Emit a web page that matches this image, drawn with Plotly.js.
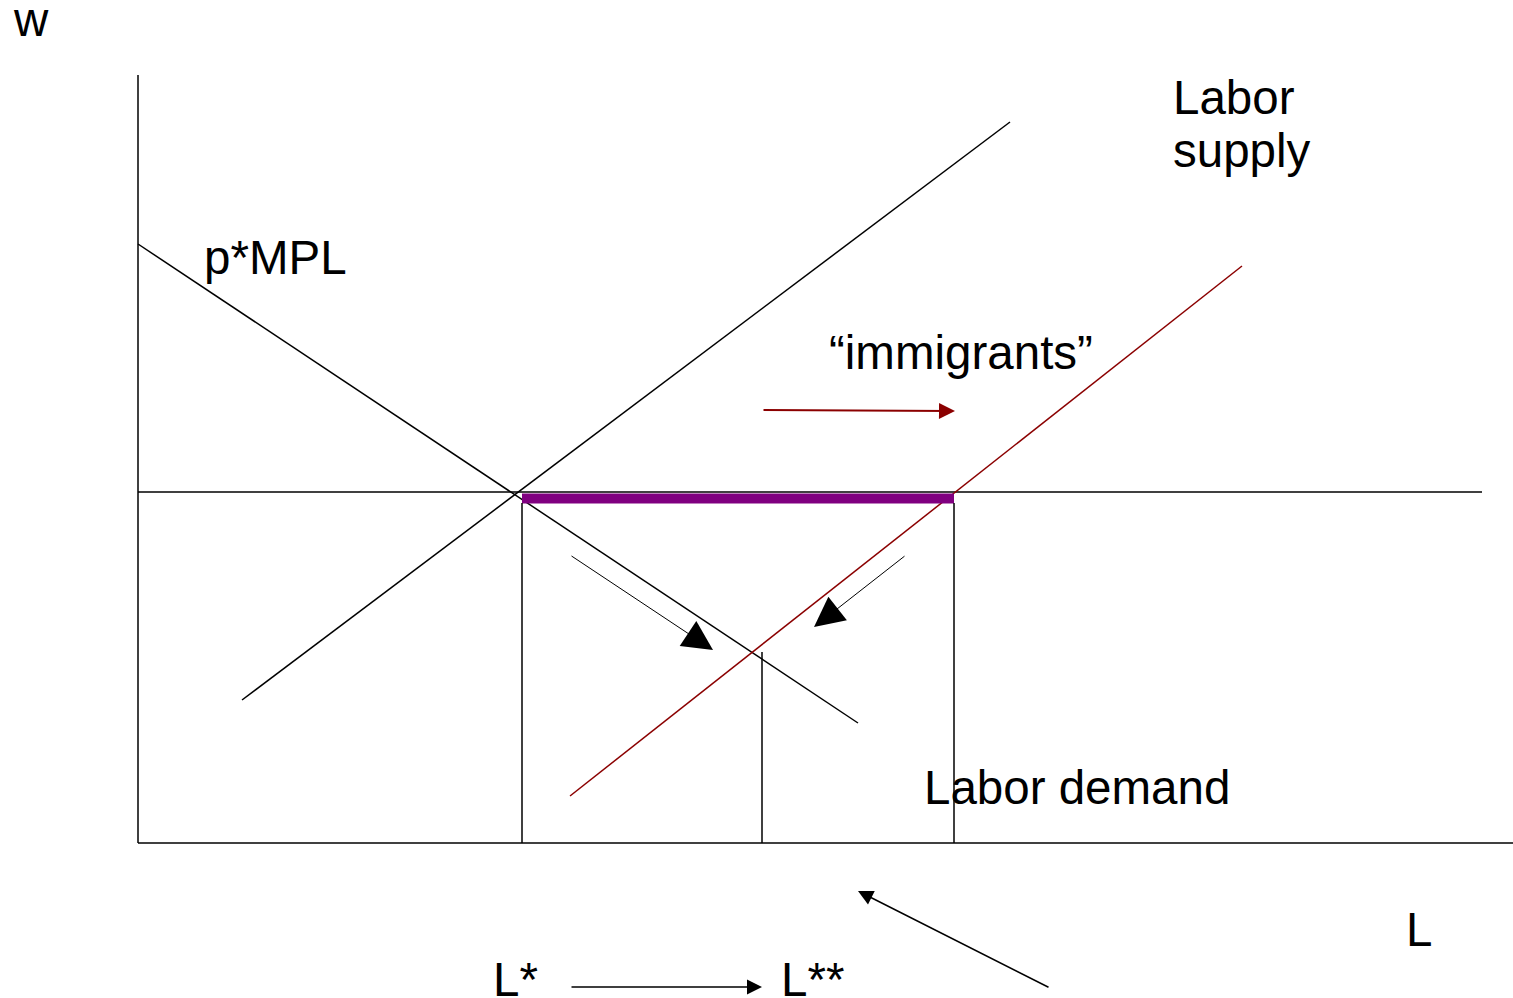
<!DOCTYPE html>
<html>
<head>
<meta charset="utf-8">
<script src="https://cdn.plot.ly/plotly-3.0.1.min.js"></script>
<style>html,body{margin:0;padding:0;background:#fff;}#chart{width:1513px;height:998px;}</style>
</head>
<body>
<div id="chart"></div>
<script>
// Diagram geometry (endpoints in the diagram's own coordinate frame)
const wAxisX = [138, 138];      const wAxisY = [75, 843];
const lAxisX = [138, 1513];     const lAxisY = [843, 843];
const wageX = [138, 1482];      const wageY = [492, 492];
const demandX = [138, 858];     const demandY = [244, 723];
const supplyX = [242, 1010];    const supplyY = [700, 122];
const newSupplyX = [570, 1242]; const newSupplyY = [796, 266];
const gapX = [522, 954];        const gapY = [498.5, 498.5];
const dropLines = [
  {x: [522, 522], y: [503, 843]},
  {x: [762, 762], y: [652, 843]},
  {x: [954, 954], y: [503, 843]}
];
// Arrows: tail -> tip
const arrowTails = [[762, 410], [570, 555], [906, 555], [1050, 988], [570, 987]];
const arrowTips  = [[955, 411], [713, 650], [814, 627], [858, 891], [762, 987]];
const arrowColors = ['#8b0000', '#000', '#000', '#000', '#000'];
const arrowWidths = [2, 1, 1, 1.5, 1.5];
const arrowSizes  = [1.6, 6, 6, 2, 2];
// Labels
const labelText = ['w', 'Labor', 'supply', 'p*MPL', '\u201cimmigrants\u201d', 'Labor demand', 'L', 'L*', 'L**'];
const labelX    = [11, 1171, 1171, 202, 827, 922, 1404, 491, 779];
const labelY    = [19, 97, 150, 257, 352, 787, 929, 979, 979];

const black = '#000';
function seg(x, y, color, width) {
  return {x: x, y: y, mode: 'lines', type: 'scatter', hoverinfo: 'skip',
          line: {color: color, width: width}, showlegend: false};
}
const traces = [
  seg(wAxisX, wAxisY, black, 1.5),
  seg(lAxisX, lAxisY, black, 1.5),
  seg(wageX, wageY, black, 1.5),
  seg(demandX, demandY, black, 1.5),
  seg(supplyX, supplyY, black, 1.5),
  seg(newSupplyX, newSupplyY, '#8b0000', 1.5),
  seg(gapX, gapY, '#800080', 10)
];
dropLines.forEach(d => traces.push(seg(d.x, d.y, black, 1.5)));

const annotations = [];
arrowTails.forEach((t, i) => {
  annotations.push({
    x: arrowTips[i][0], y: arrowTips[i][1], ax: t[0], ay: t[1],
    xref: 'x', yref: 'y', axref: 'x', ayref: 'y',
    text: '', showarrow: true, arrowhead: 2,
    arrowcolor: arrowColors[i], arrowwidth: arrowWidths[i], arrowsize: arrowSizes[i],
    standoff: 0, startstandoff: 0
  });
});
labelText.forEach((t, i) => {
  annotations.push({
    x: labelX[i], y: labelY[i], xref: 'x', yref: 'y', text: t, showarrow: false,
    xanchor: 'left', yanchor: 'middle',
    font: {family: 'Arial, "Liberation Sans", sans-serif', size: 47.5, color: '#000'}
  });
});

const layout = {
  width: 1513, height: 998,
  margin: {l: 0, r: 0, t: 0, b: 0},
  paper_bgcolor: '#fff', plot_bgcolor: '#fff',
  xaxis: {range: [0, 1513], visible: false, fixedrange: true},
  yaxis: {range: [998, 0], visible: false, fixedrange: true},
  annotations: annotations,
  showlegend: false
};
Plotly.newPlot('chart', traces, layout, {displayModeBar: false, staticPlot: true});
</script>
</body>
</html>
